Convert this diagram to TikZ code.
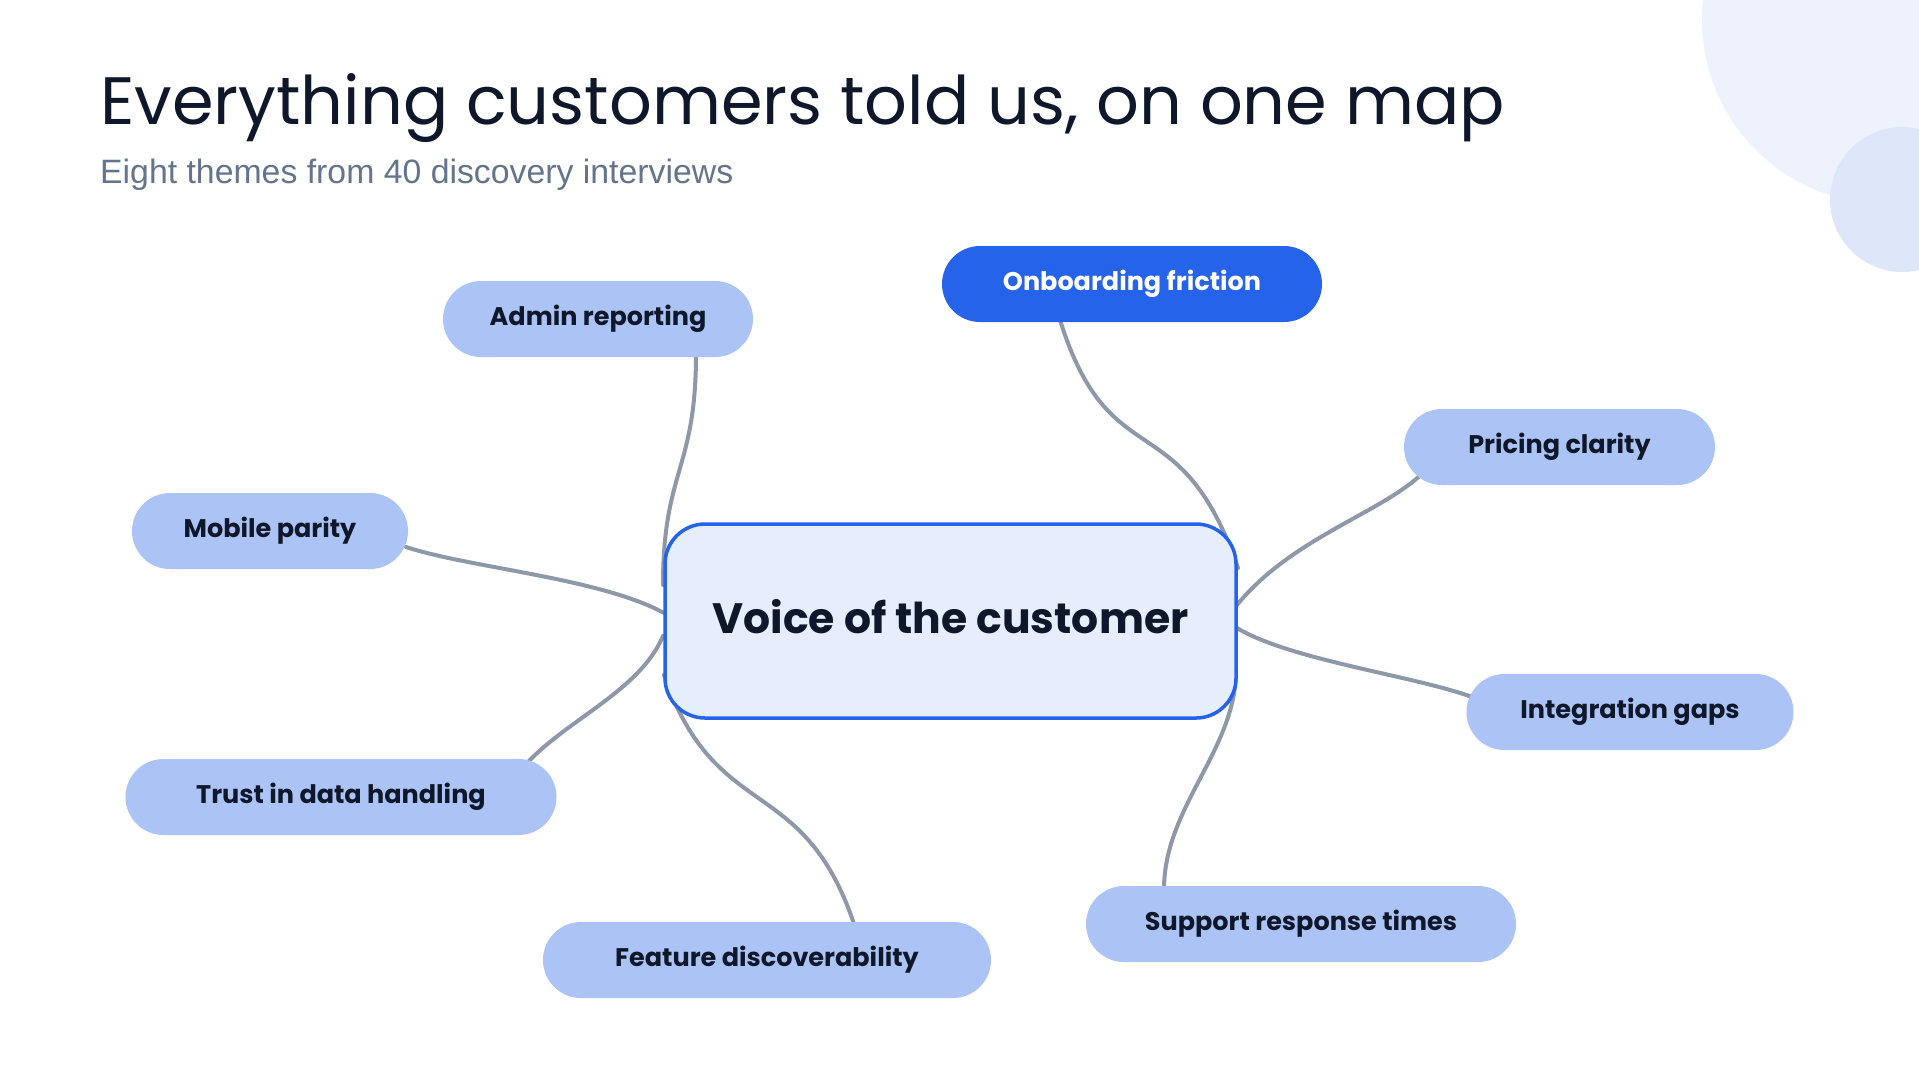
\documentclass[tikz,border=0pt]{standalone}
\usepackage{fontspec}
\setmainfont{Poppins}
\newfontfamily\subfont{Liberation Sans}
\usetikzlibrary{calc}
\definecolor{ink}{HTML}{0F172A}
\definecolor{subgray}{HTML}{64748B}
\definecolor{themefill}{HTML}{ABC3F5}
\definecolor{accent}{HTML}{2563EB}
\definecolor{hubfill}{HTML}{E6EDFC}
\definecolor{conncol}{HTML}{8E98A8}
\definecolor{circA}{HTML}{EDF2FD}
\definecolor{circB}{HTML}{DDE7F9}
\pgfdeclarelayer{bg}
\pgfdeclarelayer{edges}
\pgfsetlayers{bg,edges,main}
\begin{document}
\begin{tikzpicture}[x=1pt,y=-1pt,
  theme/.style={fill=themefill, rounded corners=38pt, minimum height=76pt, inner sep=0pt,
    font=\bfseries\fontsize{25.5}{30}\selectfont, text=ink},
  hot/.style={theme, fill=accent, text=white},
  hub/.style={fill=hubfill, draw=accent, line width=3.5pt, rounded corners=40pt,
    minimum width=571pt, minimum height=194pt, inner sep=0pt,
    font=\bfseries\fontsize{42.5}{48}\selectfont, text=ink},
  conn/.style={draw=conncol, line width=4pt, line cap=round}]
\path[use as bounding box] (0,0) rectangle (1919,1080);
\clip (0,0) rectangle (1919,1080);
\begin{pgfonlayer}{bg}
\fill[white] (0,0) rectangle (1919,1080);
\fill[circA] (1886,20) circle[radius=184pt];
\fill[circB] (1902.5,199.5) circle[radius=72.5pt];
\end{pgfonlayer}

\node[anchor=base west, text=ink, font=\fontsize{67}{74}\selectfont, inner sep=0pt] (title) at (100,124) {Everything customers told us, on one map};
\node[anchor=base west, text=subgray, font=\subfont\fontsize{33.8}{38}\selectfont, inner sep=0pt] (subtitle) at (100,183) {Eight themes from 40 discovery interviews};

\node[hub] (voc) at (950.5,621) {\raisebox{10pt}{Voice of the customer}};
\node[theme, minimum width=310pt] (adm) at (598,319) {Admin reporting};
\node[hot, minimum width=380pt] (onb) at (1132,284) {Onboarding friction};
\node[theme, minimum width=311pt] (pri) at (1559.5,447) {Pricing clarity};
\node[theme, minimum width=276pt] (mob) at (270,531) {Mobile parity};
\node[theme, minimum width=327pt] (int) at (1630,712) {Integration gaps};
\node[theme, minimum width=431pt] (tru) at (341,797) {Trust in data handling};
\node[theme, minimum width=430pt] (sup) at (1301,924) {Support response times};
\node[theme, minimum width=448pt] (fea) at (767,960) {Feature discoverability};

\begin{pgfonlayer}{edges}
\draw[conn] ($(voc.center)+(-287.5,-36)$) .. controls (663,470) and (696,470) .. ($(adm.center)+(98,35)$);
\draw[conn] ($(voc.center)+(287.5,-53)$) .. controls (1180,400) and (1110,480) .. ($(onb.center)+(-72,36)$);
\draw[conn] ($(voc.center)+(286.5,-16)$) .. controls (1290,540) and (1375,515) .. ($(pri.center)+(-141,30)$);
\draw[conn] ($(voc.center)+(-286.5,-8)$) .. controls (600,578) and (470,568) .. ($(mob.center)+(136,16)$);
\draw[conn] ($(voc.center)+(286.5,7)$) .. controls (1290,660) and (1415,676) .. ($(int.center)+(-158,-15)$);
\draw[conn] ($(voc.center)+(-287.5,15)$) .. controls (640,690) and (570,718) .. ($(tru.center)+(187,-35)$);
\draw[conn] ($(voc.center)+(-286.5,54)$) .. controls (716,825) and (803,772) .. ($(fea.center)+(87,-36)$);
\draw[conn] ($(voc.center)+(285.5,49)$) .. controls (1236,750) and (1164,807) .. ($(sup.center)+(-137,-35)$);
\end{pgfonlayer}
\end{tikzpicture}
\end{document}
